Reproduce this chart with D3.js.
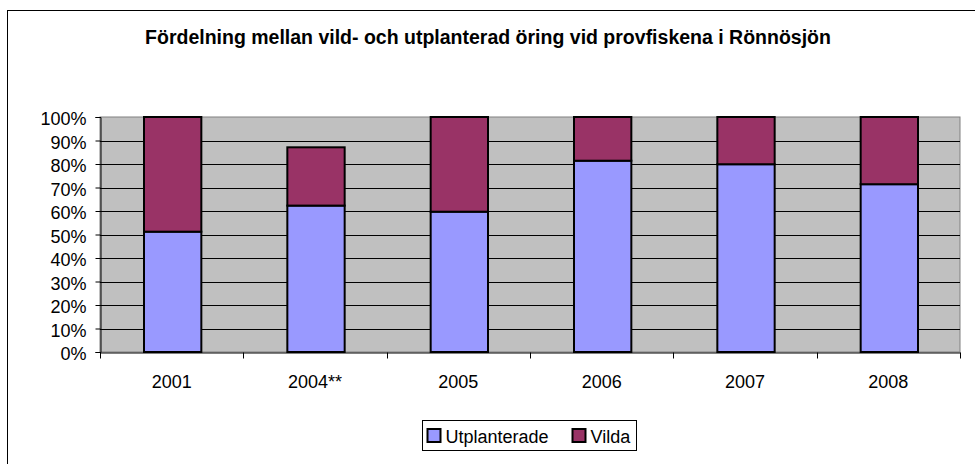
<!DOCTYPE html>
<html>
<head>
<meta charset="utf-8">
<script src="https://cdn.jsdelivr.net/npm/d3@7"></script>
<style>
  body { margin: 0; background: #fff; }
  svg { display: block; font-family: Arial, "Liberation Sans", sans-serif; }
</style>
</head>
<body>
<div id="chart"></div>
<script>
(function(d3) {

  'use strict';

  var years = ['2001', '2004**', '2005', '2006', '2007', '2008'];
  var utplanterade = [51.2, 62.3, 59.7, 81.4, 79.9, 71.4];
  var vilda = [48.8, 24.8, 40.3, 18.6, 20.1, 28.6];
  var seriesNames = ['Utplanterade', 'Vilda'];
  var seriesColors = ['#9999FF', '#993366'];
  var yTicks = [0, 10, 20, 30, 40, 50, 60, 70, 80, 90, 100];

  var width = 975, height = 464;
  var margin = { top: 117, right: 15, bottom: 112, left: 100 };

  var svg = d3.select('#chart')
    .append('svg')
    .attr('width', width)
    .attr('height', height);

  // outer chart border
  svg.append('rect')
    .attr('x', 7.5).attr('y', 10.5)
    .attr('width', 975).attr('height', 470)
    .attr('fill', 'none')
    .attr('stroke', '#000')
    .attr('stroke-width', 1);

  svg.append('text')
    .attr('x', 488)
    .attr('y', 44)
    .attr('text-anchor', 'middle')
    .style('font-weight', 'bold')
    .style('font-size', '19.5px')
    .text('Fördelning mellan vild- och utplanterad öring vid provfiskena i Rönnösjön');

  var x = d3.scaleBand()
    .domain(years)
    .range([margin.left, width - margin.right])
    .paddingInner(0.6)
    .paddingOuter(0.3);

  var band = d3.scaleBand()
    .domain(years)
    .range([margin.left, width - margin.right]);

  var y = d3.scaleLinear()
    .domain([0, 100])
    .range([height - margin.bottom, margin.top]);

  // plot area
  svg.append('rect')
    .attr('x', margin.left)
    .attr('y', y(100))
    .attr('width', width - margin.right - margin.left)
    .attr('height', y(0) - y(100))
    .attr('fill', '#C0C0C0')
    .attr('stroke', '#808080')
    .attr('stroke-width', 1);

  // gridlines
  svg.append('g')
    .selectAll('line')
    .data(yTicks.slice(1, -1))
    .enter()
    .append('line')
    .attr('x1', margin.left)
    .attr('x2', width - margin.right)
    .attr('y1', function(d) { return Math.round(y(d)) + 0.5; })
    .attr('y2', function(d) { return Math.round(y(d)) + 0.5; })
    .attr('stroke', '#000')
    .attr('stroke-width', 1);

  var data = years.map(function(yr, i) {
    return { year: yr, Utplanterade: utplanterade[i], Vilda: vilda[i] };
  });
  var stacked = d3.stack().keys(seriesNames)(data);

  svg.append('g')
    .selectAll('g')
    .data(stacked)
    .enter()
    .append('g')
    .attr('fill', function(d, i) { return seriesColors[i]; })
    .selectAll('rect')
    .data(function(d) { return d; })
    .enter()
    .append('rect')
    .attr('x', function(d) { return x(d.data.year) + 1; })
    .attr('y', function(d) { return y(d[1]); })
    .attr('width', x.bandwidth())
    .attr('height', function(d) { return y(d[0]) - y(d[1]); })
    .attr('stroke', '#000')
    .attr('stroke-width', 2);

  // y axis
  var yAxis = svg.append('g')
    .attr('transform', 'translate(' + (margin.left + 0.5) + ',0)')
    .call(d3.axisLeft(y).tickValues(yTicks).tickSize(5).tickPadding(9)
      .tickFormat(function(d) { return d + '%'; }));
  yAxis.select('.domain').attr('stroke', '#000');
  yAxis.selectAll('text').style('font-size', '18px').attr('fill', '#000').attr('dy', '0.42em');

  // x axis
  var xAxis = svg.append('g')
    .attr('transform', 'translate(0,' + (Math.round(y(0)) + 0.5) + ')')
    .call(d3.axisBottom(band).tickSize(0).tickPadding(23));
  xAxis.select('.domain').attr('stroke', '#000');
  xAxis.selectAll('text').style('font-size', '18px').attr('fill', '#000');
  xAxis.selectAll('.sep')
    .data(years.map(function(d) { return band(d); }).concat([width - margin.right]))
    .enter()
    .append('line')
    .attr('x1', function(d) { return Math.round(d) + 0.5; })
    .attr('x2', function(d) { return Math.round(d) + 0.5; })
    .attr('y1', 0)
    .attr('y2', 6)
    .attr('stroke', '#000');

  // legend
  var legend = svg.append('g').attr('transform', 'translate(422.5,420.5)');
  legend.append('rect')
    .attr('width', 214).attr('height', 30)
    .attr('fill', '#fff').attr('stroke', '#000');
  var offsets = [5, 150];
  var items = legend.selectAll('.item')
    .data(seriesNames)
    .enter()
    .append('g')
    .attr('transform', function(d, i) { return 'translate(' + offsets[i] + ',0)'; });
  items.append('rect')
    .attr('x', 0).attr('y', 8.5)
    .attr('width', 13).attr('height', 13)
    .attr('fill', function(d, i) { return seriesColors[i]; })
    .attr('stroke', '#000').attr('stroke-width', 2);
  items.append('text')
    .attr('x', 18).attr('y', 22)
    .style('font-size', '18px')
    .text(function(d) { return d; });

})(d3);
</script>
</body>
</html>
